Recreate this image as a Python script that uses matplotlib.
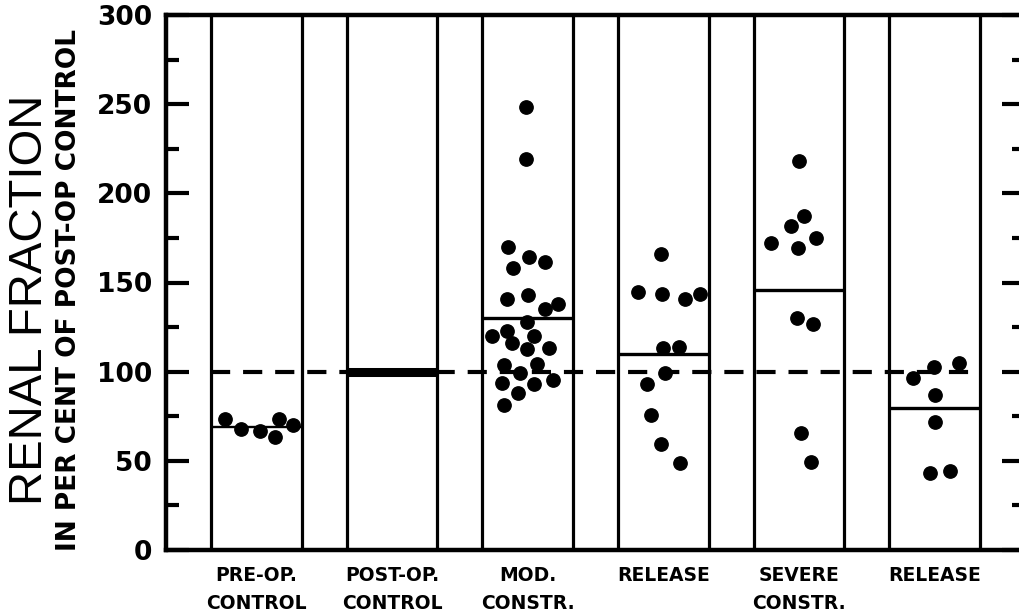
#!/usr/bin/env python3
# -*- coding: utf-8 -*-
"""
Renal fraction, in per cent of post-op control, for six stages
(scanned figure re-drawn). Saved to out.png.
"""

import matplotlib.pyplot as plt
from matplotlib.ticker import MultipleLocator
import matplotlib.transforms as mtransforms

# --- data ---------------------------------------------------------------
labels_top = ["PRE-OP.", "POST-OP.", "MOD.", "RELEASE", "SEVERE", "RELEASE"]
labels_bottom = ["CONTROL", "CONTROL", "CONSTR.", "", "CONSTR.", ""]

pre_op = [73.3, 67.7, 66.7, 63.5, 73.3, 70.1]
pre_op_dx = [-0.69, -0.35, 0.08, 0.41, 0.51, 0.80]

post_op = []
post_op_dx = []

mod_constr = [248.2, 219.2, 169.7, 164.5, 158.3, 161.7, 140.7, 143.0, 135.1,
              137.9, 128.0, 120.0, 123.0, 115.9, 120.0, 112.5, 113.4, 103.7,
              104.3, 99.4, 93.5, 93.1, 95.3, 87.9, 81.3]
mod_constr_dx = [-0.04, -0.04, -0.43, 0.02, -0.32, 0.38, -0.45, 0.00, 0.38,
                 0.68, -0.02, -0.78, -0.46, -0.35, 0.15, -0.02, 0.47, -0.52,
                 0.20, -0.17, -0.57, 0.15, 0.55, -0.21, -0.52]

release_1 = [166.0, 144.8, 143.5, 140.6, 143.4, 113.1, 114.0, 99.1, 93.1,
             75.7, 59.4, 49.0]
release_1_dx = [-0.06, -0.55, -0.03, 0.48, 0.81, -0.01, 0.35, 0.04, -0.35,
                -0.27, -0.05, 0.36]

severe_constr = [218.1, 187.4, 181.9, 172.3, 169.5, 175.1, 129.9, 126.5,
                 65.8, 49.5]
severe_constr_dx = [0.00, 0.12, -0.17, -0.62, -0.02, 0.38, -0.05, 0.32,
                    0.04, 0.26]

release_2 = [96.3, 102.5, 104.7, 86.9, 71.9, 43.4, 44.3]
release_2_dx = [-0.47, -0.02, 0.55, 0.01, 0.01, -0.10, 0.35]

group_means = [69.0, 100.0, 130.2, 110.1, 146.0, 79.4]
reference = 100.0

groups = [pre_op, post_op, mod_constr, release_1, severe_constr, release_2]
groups_dx = [pre_op_dx, post_op_dx, mod_constr_dx, release_1_dx,
             severe_constr_dx, release_2_dx]


def main():
    fig = plt.figure(figsize=(10.19, 6.15), dpi=100)
    # the right spine of the original is cut off by the scan
    ax = fig.add_axes([166 / 1019, 65 / 615, 859 / 1019, 535 / 615])

    ax.set_xlim(0, 19)
    ax.set_ylim(0, 300)

    # each column: gap of 1, box of 2
    for i, (vals, dx) in enumerate(zip(groups, groups_dx)):
        left, right = 3 * i + 1, 3 * i + 3
        centre = 3 * i + 2
        ax.vlines([left, right], 0, 300, colors="black", linewidth=2.3,
                  zorder=2)
        lw = 6.5 if i == 1 else (1.7 if i == 0 else 2.4)
        ax.hlines(group_means[i], left, right, colors="black",
                  linewidth=lw, zorder=3)
        if vals:
            ax.plot([centre + d for d in dx], vals, "o", color="black",
                    markersize=9.6, zorder=4)

    # dashed 100 % line
    ax.plot([1, 18], [reference, reference], color="black", linewidth=3,
            dashes=(4.6, 3.1), zorder=3)

    for s in ax.spines.values():
        s.set_linewidth(3.2)

    ax.yaxis.set_major_locator(MultipleLocator(50))
    ax.yaxis.set_minor_locator(MultipleLocator(25))
    ax.set_xticks([])
    ax.tick_params(axis="y", which="both", direction="in", left=True,
                   right=True, width=3, pad=10)
    ax.tick_params(axis="y", which="major", length=16.5)
    ax.tick_params(axis="y", which="minor", length=9.5)
    for t in ax.get_yticklabels():
        t.set_fontsize(19)
        t.set_fontweight("bold")

    # category labels under the columns
    trans = mtransforms.blended_transform_factory(ax.transData, ax.transAxes)
    for i, (top, bottom) in enumerate(zip(labels_top, labels_bottom)):
        centre = 3 * i + 2
        ax.text(centre, -0.047, top, transform=trans, ha="center",
                va="center", fontsize=13.5, fontweight="bold")
        if bottom:
            ax.text(centre, -0.1, bottom, transform=trans, ha="center",
                    va="center", fontsize=13.5, fontweight="bold")

    fig.text(0.029, 0.512, "RENAL FRACTION", rotation=90, ha="center",
             va="center", fontsize=34, family="Liberation Sans")
    fig.text(0.068, 0.528, "IN PER CENT OF POST-OP CONTROL", rotation=90,
             ha="center", va="center", fontsize=19, fontweight="bold")

    fig.savefig("out.png", dpi=100)
    plt.close(fig)


if __name__ == "__main__":
    main()
